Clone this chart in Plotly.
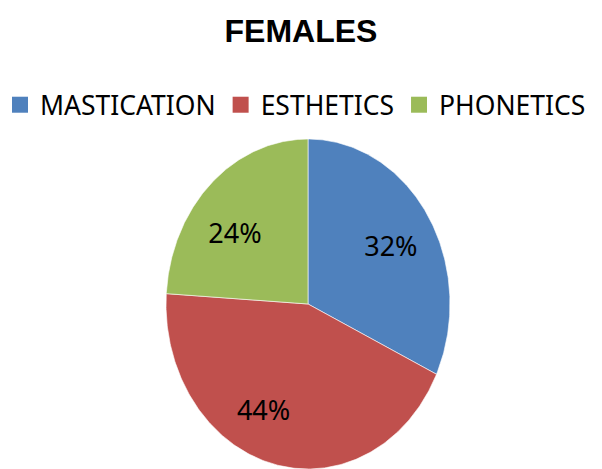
import numpy as np
import plotly.graph_objects as go

categories = ["MASTICATION", "ESTHETICS", "PHONETICS"]
values = [32, 44, 24]
colors = ["#4F81BD", "#C0504D", "#9BBB59"]
title = "FEMALES"

W, H = 602, 469
cx, cy = 308, 304      # pie centre (pixel space)
rx, ry = 142, 165      # ellipse radii (image is stretched vertically)
label_r = [0.67, 0.73, 0.66]       # label radial position per slice
label_shift = [3, 11, -8]          # label angular nudge (deg) per slice

fig = go.Figure()
total = sum(values)
start = 0.0
for i, (cat, val, col) in enumerate(zip(categories, values, colors)):
    frac = val / total
    a0, a1 = start * 2 * np.pi, (start + frac) * 2 * np.pi
    t = np.linspace(a0, a1, 200)
    xs = np.concatenate([[cx], cx + rx * np.sin(t), [cx]])
    ys = np.concatenate([[cy], cy - ry * np.cos(t), [cy]])
    fig.add_trace(go.Scatter(x=xs, y=ys, mode="lines", fill="toself",
                             fillcolor=col, line=dict(color="white", width=0.6),
                             showlegend=False, hoverinfo="skip"))
    am = (a0 + a1) / 2 + np.radians(label_shift[i])
    fig.add_trace(go.Scatter(x=[cx + label_r[i] * rx * np.sin(am)],
                             y=[cy - label_r[i] * ry * np.cos(am)],
                             mode="text", text=[f"{round(frac*100)}%"],
                             textfont=dict(size=27, color="black", family="Noto Sans"),
                             showlegend=False, hoverinfo="skip"))
    start += frac

for cat, col in zip(categories, colors):
    fig.add_trace(go.Scatter(x=[None], y=[None], mode="markers", name=cat,
                             marker=dict(symbol="square", size=17, color=col)))

fig.update_layout(
    width=W, height=H,
    margin=dict(l=0, r=0, t=0, b=0, autoexpand=False),
    paper_bgcolor="white", plot_bgcolor="white",
    xaxis=dict(range=[0, W], visible=False, fixedrange=True),
    yaxis=dict(range=[H, 0], visible=False, fixedrange=True),
    title=dict(text=f"<b>{title}</b>", x=0.5, xanchor="center", y=1 - 31 / H, yanchor="middle",
               font=dict(size=32, color="black", family="Liberation Sans")),
    legend=dict(orientation="h", x=0, xanchor="left", y=1 - 105 / H, yanchor="middle",
                font=dict(size=26.5, color="black", family="Noto Sans"),
                itemwidth=30, bgcolor="rgba(0,0,0,0)"),
)

fig.write_html("out.html", config={"displayModeBar": False},
               post_script="document.body.style.margin='0';")
